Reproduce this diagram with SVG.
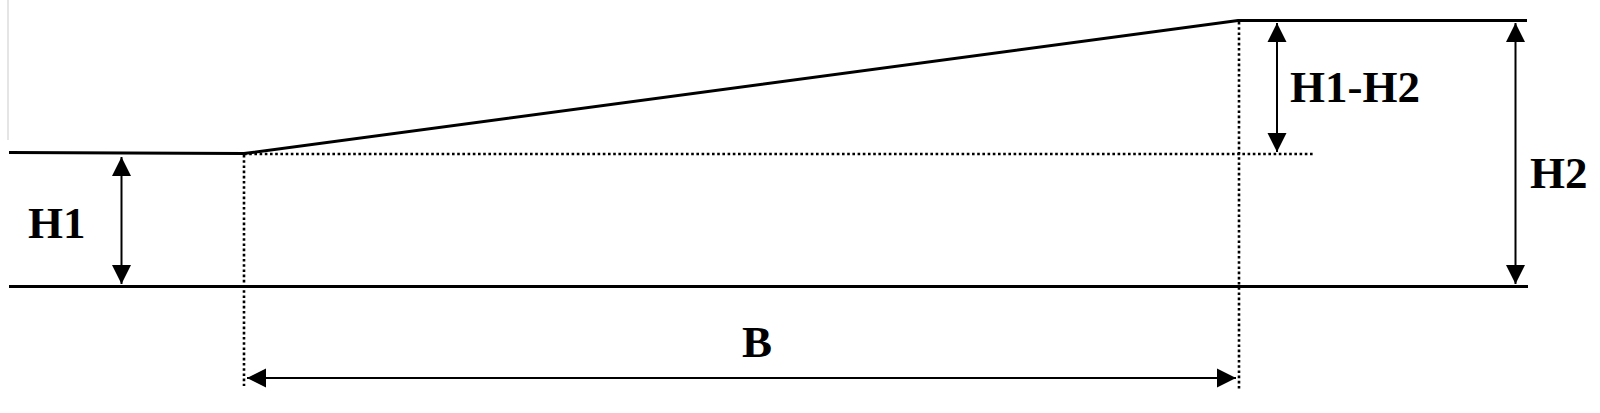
<svg xmlns="http://www.w3.org/2000/svg" width="1600" height="413" viewBox="0 0 1600 413">
  <style>
    .solid { stroke: #000; stroke-width: 3; fill: none; stroke-linecap: butt; }
    .dot { stroke: #000; stroke-width: 2.6; fill: none; stroke-dasharray: 2.6 2.6; }
    .dim { stroke: #000; stroke-width: 2; fill: none; }
    .lbl { font-family: "Liberation Serif", "Times New Roman", serif; font-weight: bold; font-size: 45px; fill: #000; }
  </style>
  <defs>
    <marker id="ah" markerUnits="userSpaceOnUse" markerWidth="22" markerHeight="22" viewBox="0 0 22 22" refX="20" refY="11" orient="auto-start-reverse">
      <path d="M1,1.5 L20,11 L1,20.5 Z" fill="#000"/>
    </marker>
  </defs>
  <rect width="1600" height="413" fill="#fff"/>
  <line x1="8" y1="0" x2="8" y2="140" stroke="#dcdcdc" stroke-width="1.5"/>
  <g id="profile">
    <polyline class="solid" points="9,152.5 244,153.5 1238,20.5 1527,20.5"/>
    <line class="solid" x1="9" y1="286.5" x2="1528" y2="286.5"/>
  </g>
  <g id="guides">
    <line class="dot" x1="244" y1="154" x2="1313" y2="154"/>
    <line class="dot" x1="244" y1="155" x2="244" y2="386"/>
    <line class="dot" x1="1239" y1="22" x2="1239" y2="389"/>
  </g>
  <g id="connectors">
    <line class="dim" x1="121.5" y1="157" x2="121.5" y2="284" marker-start="url(#ah)" marker-end="url(#ah)"/>
    <line class="dim" x1="1277" y1="23" x2="1277" y2="152" marker-start="url(#ah)" marker-end="url(#ah)"/>
    <line class="dim" x1="1515.5" y1="23" x2="1515.5" y2="284" marker-start="url(#ah)" marker-end="url(#ah)"/>
    <line class="dim" x1="247" y1="378" x2="1236" y2="378" marker-start="url(#ah)" marker-end="url(#ah)"/>
  </g>
  <g id="label-H1"><text class="lbl" x="28" y="238">H1</text></g>
  <g id="label-H1-H2"><text class="lbl" x="1290" y="102">H1-H2</text></g>
  <g id="label-H2"><text class="lbl" x="1530" y="188">H2</text></g>
  <g id="label-B"><text class="lbl" x="742" y="357">B</text></g>
</svg>
